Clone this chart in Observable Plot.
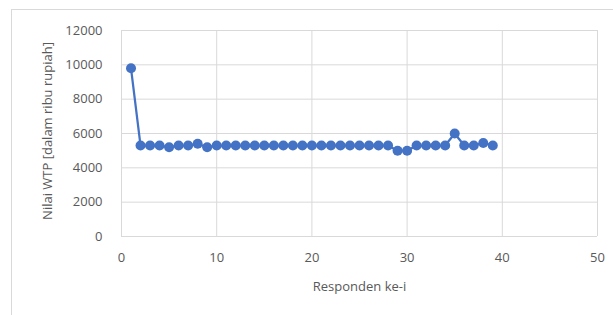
<!DOCTYPE html>
<html><head><meta charset="utf-8">
<script src="https://cdn.jsdelivr.net/npm/d3@7"></script>
<script src="https://cdn.jsdelivr.net/npm/@observablehq/plot@0.6"></script>
<style>
body{margin:0;background:#fff;}
#wrap{position:relative;width:613px;height:315px;overflow:hidden;}
#frame{position:absolute;left:11px;top:9px;width:640px;height:340px;border:1px solid #d9d9d9;box-sizing:border-box;}
#chart{position:absolute;left:0;top:0;}
</style></head>
<body><div id="wrap"><div id="frame"></div><div id="chart"></div></div>
<script>
const responden = d3.range(1, 40);
const wtp = [9800,5300,5300,5300,5200,5300,5300,5400,5200,5300,
             5300,5300,5300,5300,5300,5300,5300,5300,5300,5300,
             5300,5300,5300,5300,5300,5300,5300,5300,5000,5000,
             5300,5300,5300,5300,6000,5300,5300,5450,5300];
const xTicks = [0,10,20,30,40,50];
const yTicks = [0,2000,4000,6000,8000,10000,12000];
const data = responden.map((r,i)=>({r, v: wtp[i]}));
const blue = "#4472C4";
const chart = Plot.plot({
  width: 613, height: 315,
  marginLeft: 121, marginRight: 16, marginTop: 30, marginBottom: 79,
  style: {fontFamily: "'Open Sans', sans-serif", fontSize: "13px", color: "#595959", background: "transparent"},
  x: {domain: [0,50]},
  y: {domain: [0,12000]},
  marks: [
    Plot.ruleY(yTicks, {stroke: "#d9d9d9", strokeWidth: 1}),
    Plot.ruleX(xTicks, {stroke: "#d9d9d9", strokeWidth: 1}),
    Plot.axisY({ticks: yTicks, tickSize: 0, tickPadding: 19, tickFormat: d => String(d), label: null}),
    Plot.axisX({ticks: xTicks, tickSize: 0, tickPadding: 16, label: "Responden ke-i", labelAnchor: "center", labelArrow: "none", labelOffset: 54}),
    Plot.line(data, {x: "r", y: "v", stroke: blue, strokeWidth: 2.25}),
    Plot.dot(data, {x: "r", y: "v", fill: blue, r: 5})
  ]
});
document.getElementById("chart").appendChild(chart);
const svg = d3.select(chart);
svg.append("text")
  .attr("transform", "translate(49,131) rotate(-90)")
  .attr("text-anchor", "middle")
  .attr("dominant-baseline", "middle")
  .attr("fill", "#595959")
  .attr("font-size", "13px")
  .attr("font-family", "'Open Sans', sans-serif")
  .text("Nilai WTP [dalam ribu rupiah]");
</script></body></html>
